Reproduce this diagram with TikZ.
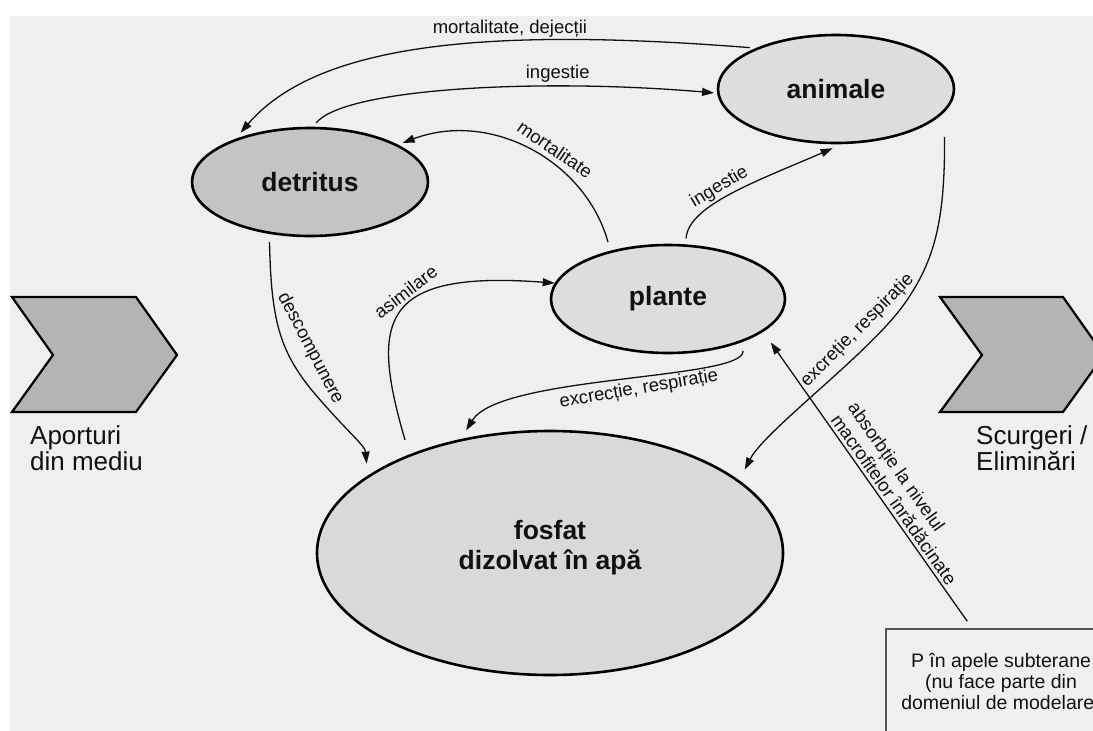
\documentclass[tikz,border=0pt]{standalone}
\usepackage{fontspec}
\setmainfont{Liberation Sans}
\usetikzlibrary{arrows.meta,shapes.geometric,calc}

\definecolor{bgc}{HTML}{EFEFEF}
\definecolor{detc}{HTML}{C4C4C4}
\definecolor{lightc}{HTML}{DDDDDD}
\definecolor{fosc}{HTML}{D9D9D9}
\definecolor{chevc}{HTML}{B4B4B4}
\definecolor{boxc}{HTML}{555555}
\definecolor{inkc}{HTML}{111111}

\begin{document}
\begin{tikzpicture}[x=1pt,y=-1pt,
  pool/.style={ellipse, draw=black, line width=2.6pt, inner sep=0pt,
    font=\fontsize{26.5}{30}\selectfont\bfseries, text=inkc, align=center},
  flow/.style={line width=1.3pt, draw=inkc, -{Triangle[length=12pt,width=8pt]}},
  lbl/.style={font=\fontsize{18.5}{21}\selectfont, text=inkc, inner sep=3pt},
  chev/.style={fill=chevc, draw=black, line width=2.2pt, line join=miter},
  side/.style={font=\fontsize{26}{26}\selectfont, text=inkc, align=left, inner sep=0pt},
  pbox/.style={draw=boxc, fill=bgc, line width=1.5pt, minimum width=230pt,
    minimum height=108pt, align=center, font=\fontsize{19.5}{21}\selectfont, text=inkc}
]
\useasboundingbox (0,0) rectangle (1093,731);
\clip (0,0) rectangle (1093,731);

% page background with thin white margin
\fill[white] (0,0) rectangle (1093,731);
\fill[bgc] (10,16) rectangle (1093,731);

% inflow / outflow chevrons
\draw[chev] (12,297) -- (136,297) -- (177,355) -- (136,412) -- (12,412) -- (53,355) -- cycle;
\draw[chev] (940,297) -- (1063,297) -- (1104,355) -- (1063,412) -- (940,412) -- (982,355) -- cycle;
\node[side, anchor=base west] (aport) at (30,470) {Aporturi\\din mediu};
\node[side, anchor=base west] (scurg) at (976,470) {Scurgeri /\\Eliminări};

% groundwater box
\node[pbox] (box) at (1001,683) {P în apele subterane\\(nu face parte din\\domeniul de modelare)};

% pools
\node[pool, fill=lightc, minimum width=236pt, minimum height=108pt] (animale) at (836,89) {animale};
\node[pool, fill=detc, minimum width=236pt, minimum height=108pt] (detritus) at (310,182) {detritus};
\node[pool, fill=lightc, minimum width=234pt, minimum height=108pt] (plante) at (668,299) {plante};
\node[pool, fill=fosc, minimum width=466pt, minimum height=244pt] (fosfat) at (550,553)
  {fosfat\\dizolvat în apă\rule[-16pt]{0pt}{16pt}};

% fluxes
\draw[flow, shorten <=6pt, shorten >=8pt] (animale.153) .. controls (500,28) and (320,40) .. (detritus.150)
  node[lbl, pos=.36, above] {mortalitate, dejecții};
\draw[flow, shorten <=5pt, shorten >=3pt] (detritus.87) .. controls (345,88) and (540,78) .. (animale.182)
  node[lbl, pos=.7, above] {ingestie};
\draw[flow, shorten <=9pt, shorten >=5pt] (plante.140) .. controls (585,160) and (490,110) .. (detritus.23)
  node[lbl, pos=.42, sloped, above, inner sep=7pt] {mortalitate};
\draw[flow, shorten <=6pt, shorten >=10pt] (plante.72) .. controls (688,205) and (760,180) .. (animale.-84)
  node[lbl, pos=.45, sloped, above] {ingestie};
\draw[flow, shorten <=15pt] (fosfat.145) .. controls (370,320) and (380,270) .. (plante.172)
  node[lbl, pos=.58, sloped, above, inner sep=5pt] {asimilare};
\draw[flow, shorten <=8pt, shorten >=12pt] (detritus.232) .. controls (271,320) and (280,350) .. (310,388)
  node[lbl, pos=.74, sloped, above, inner sep=13pt] {descompunere}
  .. controls (345,430) and (365,445) .. (fosfat.157);
\draw[flow, shorten <=9pt, shorten >=10pt] (plante.-30) .. controls (745,380) and (500,375) .. (fosfat.128)
  node[lbl, pos=.45, sloped, below] {excrecție, respirație};
\draw[flow, shorten <=25pt, shorten >=12pt] (animale.-12) .. controls (945,220) and (935,260) .. (905,303)
  .. controls (870,353) and (765,430) .. (fosfat.21)
  node[lbl, pos=.24, sloped, above, inner sep=8pt] {excreție, respirație};
\draw[flow, shorten >=13pt] ($(box.north west)+(82pt,7pt)$) -- (plante.-19)
  node[lbl, pos=.4, sloped, above, align=left] {absorbție la nivelul\\macrofitelor înrădăcinate};
\end{tikzpicture}
\end{document}
